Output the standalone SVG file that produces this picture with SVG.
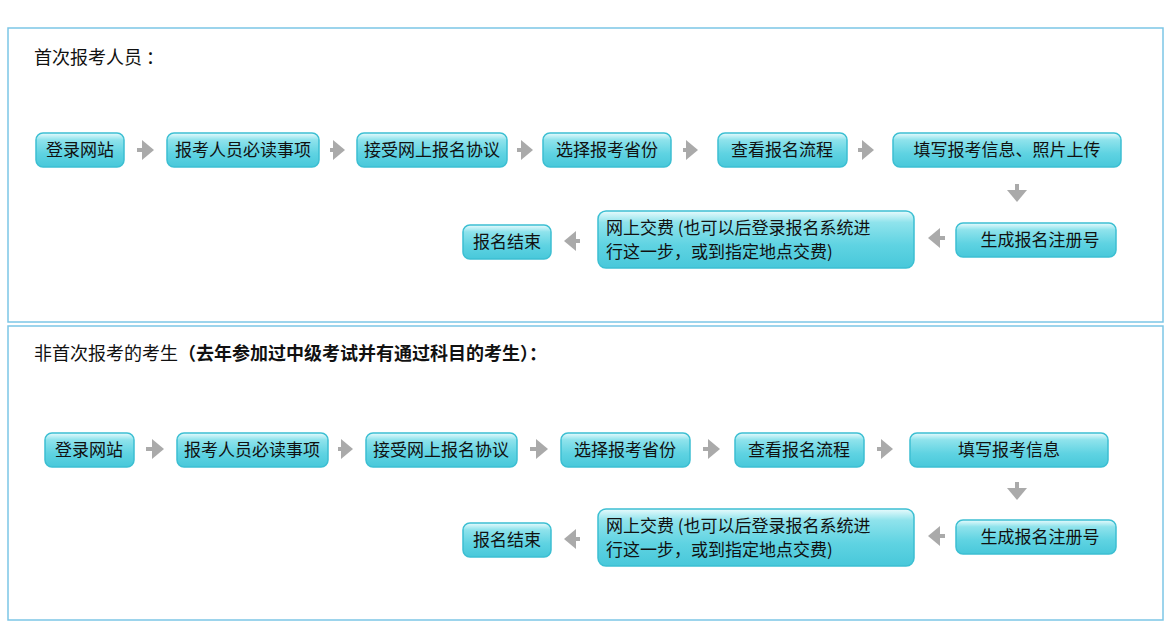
<svg xmlns="http://www.w3.org/2000/svg" width="1176" height="630" viewBox="0 0 1176 630">
<style>
text{font-family:"Noto Sans CJK SC","Liberation Sans",sans-serif;fill:#111}
.b rect{fill:url(#g);stroke:#3cbfd2;stroke-width:1.5}
.b text{font-size:17px;text-anchor:middle}
.b text.l{text-anchor:start}
.p{fill:#fff;stroke:#7cc6e6;stroke-width:1.5}
.a{stroke:#aaa;stroke-width:4;fill:none;marker-end:url(#m)}
</style>
<defs>
<linearGradient id="g" x1="0" y1="0" x2="0" y2="1">
<stop offset="0" stop-color="#e8fbfd"/><stop offset="0.2" stop-color="#8fe3ec"/><stop offset="0.6" stop-color="#5fd3e2"/><stop offset="1" stop-color="#48c8da"/>
</linearGradient>
<marker id="m" markerWidth="4" markerHeight="5" refX="2" refY="2.5" orient="auto" markerUnits="strokeWidth"><path d="M0,0 L3,2.5 L0,5 Z" fill="#aaa"/></marker>
</defs>
<rect width="1176" height="630" fill="#fff"/>
<rect class="p" x="8" y="28" width="1155" height="294"/>
<rect class="p" x="8" y="326" width="1155" height="294"/>
<text x="34" y="64" font-size="18">首次报考人员 ：</text>
<text x="34" y="360" font-size="18">非首次报考的考生<tspan font-weight="bold">（去年参加过中级考试并有通过科目的考生）：</tspan></text>
<g id="nodes1">
<g id="n1" class="b"><rect x="36" y="133" width="88" height="34" rx="7"/><text x="80" y="156">登录网站</text></g>
<g id="n2" class="b"><rect x="167" y="133" width="152" height="34" rx="7"/><text x="243" y="156">报考人员必读事项</text></g>
<g id="n3" class="b"><rect x="357" y="133" width="150" height="34" rx="7"/><text x="432" y="156">接受网上报名协议</text></g>
<g id="n4" class="b"><rect x="543" y="133" width="128" height="34" rx="7"/><text x="607" y="156">选择报考省份</text></g>
<g id="n5" class="b"><rect x="718" y="133" width="129" height="34" rx="7"/><text x="782" y="156">查看报名流程</text></g>
<g id="n6" class="b"><rect x="893" y="133" width="228" height="34" rx="7"/><text x="1007" y="156">填写报考信息、照片上传</text></g>
<g id="n7" class="b"><rect x="956" y="223" width="160" height="34" rx="7"/><text x="1040" y="246">生成报名注册号</text></g>
<g id="n8" class="b"><rect x="598" y="211" width="316" height="57" rx="8"/><text class="l" x="606" y="234">网上交费 (也可以后登录报名系统进</text><text class="l" x="606" y="258">行这一步，或到指定地点交费)</text></g>
<g id="n9" class="b"><rect x="463" y="225" width="88" height="34" rx="7"/><text x="507" y="248">报名结束</text></g>
</g>
<g id="nodes2">
<g id="m1" class="b"><rect x="45" y="433" width="89" height="34" rx="7"/><text x="89" y="456">登录网站</text></g>
<g id="m2" class="b"><rect x="177" y="433" width="151" height="34" rx="7"/><text x="252" y="456">报考人员必读事项</text></g>
<g id="m3" class="b"><rect x="366" y="433" width="151" height="34" rx="7"/><text x="441" y="456">接受网上报名协议</text></g>
<g id="m4" class="b"><rect x="561" y="433" width="129" height="34" rx="7"/><text x="625" y="456">选择报考省份</text></g>
<g id="m5" class="b"><rect x="735" y="433" width="129" height="34" rx="7"/><text x="799" y="456">查看报名流程</text></g>
<g id="m6" class="b"><rect x="910" y="433" width="198" height="34" rx="7"/><text x="1009" y="456">填写报考信息</text></g>
<g id="m7" class="b"><rect x="956" y="520" width="160" height="34" rx="7"/><text x="1040" y="543">生成报名注册号</text></g>
<g id="m8" class="b"><rect x="598" y="509" width="316" height="57" rx="8"/><text class="l" x="606" y="532">网上交费 (也可以后登录报名系统进</text><text class="l" x="606" y="556">行这一步，或到指定地点交费)</text></g>
<g id="m9" class="b"><rect x="463" y="523" width="88" height="34" rx="7"/><text x="507" y="546">报名结束</text></g>
</g>
<g id="connectors">
<line class="a" x1="137" y1="150" x2="150" y2="150"/>
<line class="a" x1="330" y1="150" x2="341" y2="150"/>
<line class="a" x1="517" y1="150" x2="529" y2="150"/>
<line class="a" x1="683" y1="150" x2="694" y2="150"/>
<line class="a" x1="858" y1="150" x2="870" y2="150"/>
<line class="a" x1="1017" y1="184" x2="1017" y2="198"/>
<line class="a" x1="945" y1="238" x2="932" y2="238"/>
<line class="a" x1="580" y1="241" x2="568" y2="241"/>
<line class="a" x1="146" y1="449" x2="160" y2="449"/>
<line class="a" x1="338" y1="449" x2="349" y2="449"/>
<line class="a" x1="530" y1="449" x2="544" y2="449"/>
<line class="a" x1="703" y1="449" x2="716" y2="449"/>
<line class="a" x1="877" y1="449" x2="889" y2="449"/>
<line class="a" x1="1017" y1="482" x2="1017" y2="496"/>
<line class="a" x1="945" y1="536" x2="932" y2="536"/>
<line class="a" x1="580" y1="539" x2="568" y2="539"/>
</g>
</svg>
